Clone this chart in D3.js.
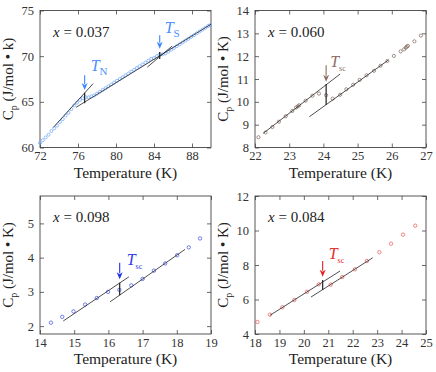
<!DOCTYPE html>
<html>
<head>
<meta charset="utf-8">
<script src="https://cdn.jsdelivr.net/npm/d3@7"></script>
<style>
  body { margin: 0; background: #fff; }
</style>
</head>
<body>
<svg id="chart" width="436" height="372" font-family="Liberation Serif"></svg>
<script>
// x = 0.037
var p1Temp = [72.0,72.3,72.6,72.9,73.2,73.5,73.8,74.1,74.4,74.7,75.0,75.3,75.6,75.9,76.2,76.5,76.8,77.1,77.4,77.7,
  78.0,78.3,78.6,78.9,79.2,79.5,79.8,80.1,80.4,80.7,81.0,81.3,81.6,81.9,82.2,82.5,82.8,83.1,83.4,83.7,
  84.0,84.3,84.6,84.9,85.2,85.5,85.8,86.1,86.4,86.7,87.0,87.3,87.6,87.9,88.2,88.5,88.8,89.1,89.4,89.7,89.9];
var p1Cp = [60.5,60.8,61.1,61.4,61.8,62.1,62.4,62.8,63.1,63.5,63.8,64.2,64.6,64.9,65.2,65.4,65.5,65.5,65.6,65.7,
  65.9,66.1,66.3,66.5,66.7,66.9,67.1,67.3,67.5,67.7,67.9,68.1,68.3,68.5,68.7,68.9,69.1,69.3,69.5,69.7,
  69.8,70.0,70.2,70.2,70.3,70.5,70.7,70.9,71.1,71.3,71.5,71.7,71.9,72.1,72.3,72.5,72.7,72.9,73.1,73.3,73.4];
// x = 0.060
var p2Temp = [22.10,22.31,22.51,22.70,22.90,23.09,23.20,23.25,23.29,23.48,23.68,23.87,24.08,24.27,24.49,24.67,
  24.87,25.06,25.26,25.48,25.67,25.87,26.06,26.26,26.36,26.41,26.44,26.47,26.66,26.85];
var p2Cp = [8.45,8.66,8.90,9.13,9.37,9.60,9.75,9.80,9.85,10.05,10.27,10.36,10.29,10.14,10.31,10.55,
  10.75,10.96,11.16,11.36,11.58,11.79,12.01,12.21,12.30,12.37,12.42,12.45,12.65,12.90];
// x = 0.098
var p3Temp = [14.32,14.65,14.98,15.32,15.66,15.99,16.32,16.67,17.00,17.33,17.66,18.01,18.35,18.68];
var p3Cp = [2.10,2.27,2.43,2.63,2.82,3.00,3.06,3.19,3.38,3.62,3.83,4.07,4.30,4.56];
// x = 0.084
var p4Temp = [18.10,18.61,19.12,19.61,20.13,20.61,21.10,21.57,22.09,22.58,23.09,23.57,24.06,24.56];
var p4Cp = [4.70,5.12,5.55,5.97,6.45,6.88,6.86,7.30,7.75,8.23,8.74,9.24,9.76,10.28];

// tick labels
var p1XTicks = [72,76,80,84,88], p1YTicks = [60,65,70,75];
var p2XTicks = [22,23,24,25,26,27], p2YTicks = [8,9,10,11,12,13,14];
var p3XTicks = [14,15,16,17,18,19], p3YTicks = [2,3,4,5];
var p4XTicks = [18,19,20,21,22,23,24,25], p4YTicks = [4,6,8,10,12];

// fit lines [[T1,C1],[T2,C2]]
var p1Fits = [[[73.4,62.2],[77.6,67.0]], [[75.8,64.4],[90,73.5]], [[83.3,68.8],[85.9,71.1]]];
var p2Fits = [[[22.24,8.62],[24.49,11.22]], [[23.59,9.35],[25.9,11.83]]];
var p3Fits = [[[14.68,2.15],[16.6,3.44]], [[16.05,2.71],[18.24,4.24]]];
var p4Fits = [[[18.61,5.08],[21.48,7.65]], [[20.29,6.14],[22.82,8.42]]];

// transition marks: T, Cp low/high of the step, arrow top/tip, subscript
var p1Marks = [{t:76.7, lo:64.85, hi:66.0, a0:67.9, a1:66.3, sub:"N"},
               {t:84.6, lo:69.7, hi:70.45, a0:72.3, a1:70.8, sub:"S"}];
var p2Marks = [{t:24.08, lo:9.86, hi:10.78, a0:11.6, a1:10.88, sub:"sc"}];
var p3Marks = [{t:16.33, lo:2.90, hi:3.27, a0:3.85, a1:3.37, sub:"sc"}];
var p4Marks = [{t:20.77, lo:6.55, hi:7.13, a0:8.23, a1:7.32, sub:"sc"}];

var svg = d3.select("#chart");
var serif = "Liberation Serif";

function drawPanel(o) {
  var g = svg.append("g").attr("transform", "translate(" + o.left + "," + o.top + ")");
  var x = d3.scaleLinear().domain(o.xDom).range([0, o.w]);
  var y = d3.scaleLinear().domain(o.yDom).range([o.h, 0]);

  g.append("g").attr("transform", "translate(0," + o.h + ")")
    .call(d3.axisBottom(x).tickValues(o.xTicks).tickSize(-4).tickPadding(4).tickFormat(d3.format("d")))
    .call(ax => ax.select(".domain").remove());
  g.append("g")
    .call(d3.axisTop(x).tickValues(o.xTicks).tickSize(-4).tickFormat(""))
    .call(ax => ax.select(".domain").remove());
  g.append("g")
    .call(d3.axisLeft(y).tickValues(o.yTicks).tickSize(-4).tickPadding(6).tickFormat(d3.format("d")))
    .call(ax => ax.select(".domain").remove());
  g.append("g").attr("transform", "translate(" + o.w + ",0)")
    .call(d3.axisRight(y).tickValues(o.yTicks).tickSize(-4).tickFormat(""))
    .call(ax => ax.select(".domain").remove());
  g.selectAll("g").attr("font-family", serif).attr("font-size", 12.5);
  g.selectAll(".tick line").attr("stroke", "#444").attr("stroke-width", 0.8);
  g.selectAll(".tick text").attr("fill", "#333");

  g.append("rect").attr("width", o.w).attr("height", o.h)
    .attr("fill", "none").attr("stroke", "#444").attr("stroke-width", 0.9);

  var pts = o.temp.map((t, i) => [t, o.cp[i]]);
  g.selectAll(".pt").data(pts).enter().append("circle")
    .attr("cx", d => x(d[0])).attr("cy", d => y(d[1]))
    .attr("r", o.r).attr("fill", "none").attr("stroke", o.color).attr("stroke-width", 0.7);

  g.selectAll(".fit").data(o.fits).enter().append("line")
    .attr("x1", d => x(d[0][0])).attr("y1", d => y(d[0][1]))
    .attr("x2", d => x(d[1][0])).attr("y2", d => y(d[1][1]))
    .attr("stroke", "#222").attr("stroke-width", 0.8);

  o.marks.forEach(function(m) {
    g.append("line").attr("x1", x(m.t)).attr("x2", x(m.t))
      .attr("y1", y(m.lo)).attr("y2", y(m.hi)).attr("stroke", "#222").attr("stroke-width", 1.2);
    var ax = x(m.t), ay0 = y(m.a0), ay1 = y(m.a1);
    g.append("line").attr("x1", ax).attr("x2", ax).attr("y1", ay0).attr("y2", ay1 - 6)
      .attr("stroke", o.arrowColor).attr("stroke-width", 1.1);
    g.append("path").attr("d", "M" + (ax - 3) + "," + (ay1 - 7) + "L" + ax + "," + ay1 + "L" + (ax + 3) + "," + (ay1 - 7) + "L" + ax + "," + (ay1 - 5) + "Z")
      .attr("fill", o.arrowColor);
    var lab = g.append("text").attr("x", ax + (m.dx || 5)).attr("y", ay0 + (m.dy || 2))
      .attr("fill", o.labelColor).attr("font-family", serif).attr("font-size", 16);
    lab.append("tspan").attr("font-style", "italic").text("T");
    lab.append("tspan").attr("dy", 4).attr("font-size", o.subSize).text(m.sub);
  });

  var xl = g.append("text").attr("x", 13).attr("y", 26).attr("fill", "#222")
    .attr("font-family", serif).attr("font-size", 15);
  xl.append("tspan").attr("font-style", "italic").text("x");
  xl.append("tspan").text(" = " + o.label);

  g.append("text").attr("x", o.w / 2).attr("y", o.h + 30).attr("text-anchor", "middle")
    .attr("fill", "#222").attr("font-family", serif).attr("font-size", 15.5).text("Temperature (K)");

  var yl = g.append("text").attr("transform", "translate(" + (-27) + "," + (o.h / 2) + ") rotate(-90)")
    .attr("text-anchor", "middle").attr("fill", "#222").attr("font-family", serif).attr("font-size", 15);
  yl.append("tspan").text("C");
  yl.append("tspan").attr("dy", 4).attr("font-size", 10).text("p");
  yl.append("tspan").attr("dy", -4).text(" (J/mol \u2022 " + o.unitK + ")");
}

drawPanel({left: 40, top: 10.5, w: 171, h: 137, xDom: [72, 90], yDom: [60, 75],
  xTicks: p1XTicks, yTicks: p1YTicks, temp: p1Temp, cp: p1Cp, fits: p1Fits,
  marks: [Object.assign({dx: 6, dy: -4}, p1Marks[0]), Object.assign({dx: 5, dy: -2}, p1Marks[1])],
  color: "#6aa5fb", r: 1.5, arrowColor: "#3b86ff", labelColor: "#4a90ff", subSize: 11,
  label: "0.037", unitK: "k"});
drawPanel({left: 255, top: 10.5, w: 171, h: 137, xDom: [22, 27], yDom: [8, 14],
  xTicks: p2XTicks, yTicks: p2YTicks, temp: p2Temp, cp: p2Cp, fits: p2Fits,
  marks: p2Marks.map(m => Object.assign({dx: 4, dy: 2}, m)),
  color: "#7e635a", r: 1.6, arrowColor: "#8b6c60", labelColor: "#8b6c60", subSize: 8,
  label: "0.060", unitK: "K"});
drawPanel({left: 40, top: 196, w: 171, h: 138, xDom: [14, 19], yDom: [1.77, 5.8],
  xTicks: p3XTicks, yTicks: p3YTicks, temp: p3Temp, cp: p3Cp, fits: p3Fits,
  marks: p3Marks.map(m => Object.assign({dx: 7, dy: 2}, m)),
  color: "#3a4ae8", r: 1.7, arrowColor: "#1f33e6", labelColor: "#2a3ce6", subSize: 8,
  label: "0.098", unitK: "K"});
drawPanel({left: 255, top: 196, w: 171, h: 138, xDom: [18, 25], yDom: [4, 12],
  xTicks: p4XTicks, yTicks: p4YTicks, temp: p4Temp, cp: p4Cp, fits: p4Fits,
  marks: p4Marks.map(m => Object.assign({dx: 6, dy: -2}, m)),
  color: "#e85555", r: 1.7, arrowColor: "#e82020", labelColor: "#e82828", subSize: 8,
  label: "0.084", unitK: "K"});
</script>
</body>
</html>
